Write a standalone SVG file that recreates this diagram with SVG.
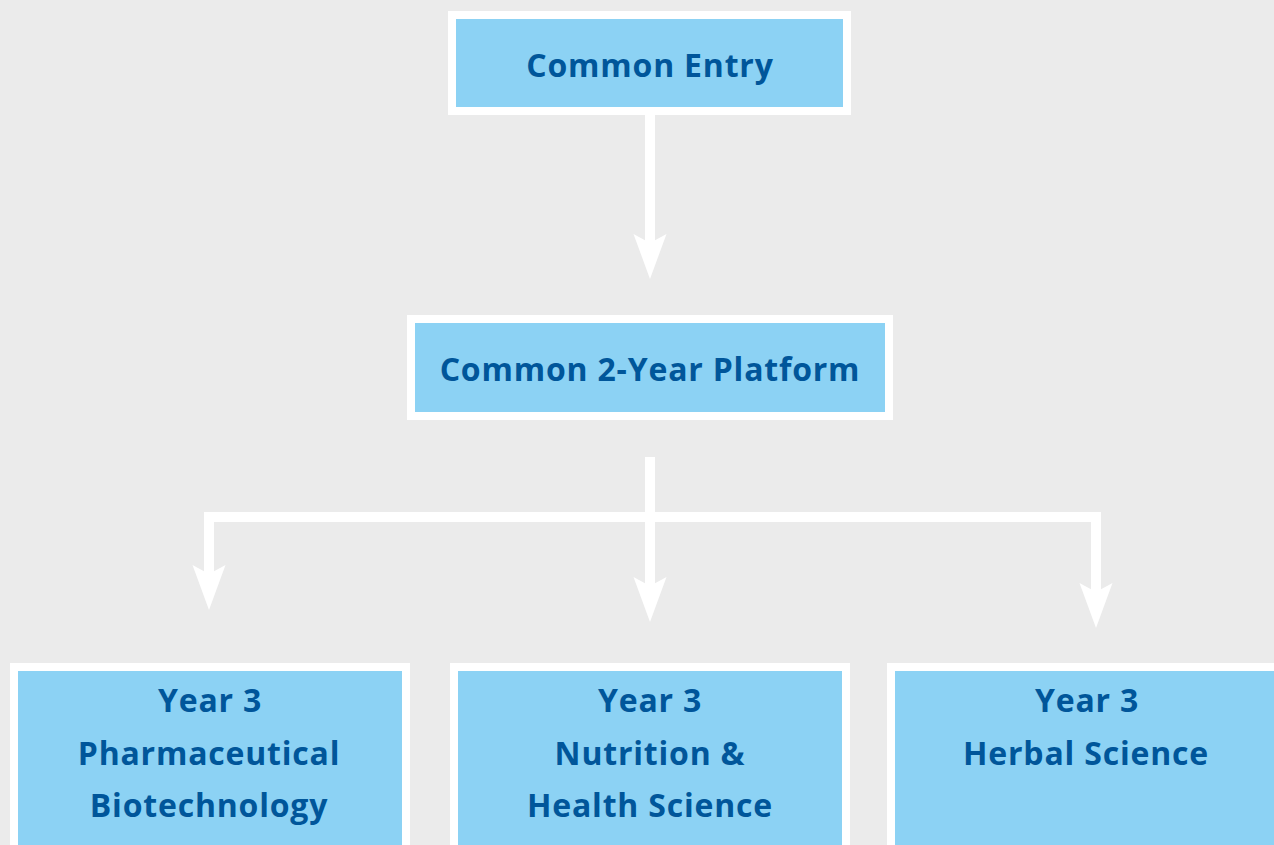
<svg xmlns="http://www.w3.org/2000/svg" xmlns:xlink="http://www.w3.org/1999/xlink" width="1274" height="845" viewBox="0 0 1274 845">
<style>
.box{fill:#8cd2f4;stroke:#ffffff;stroke-width:8}
.lbl{font-family:"Open Sans","Noto Sans","Liberation Sans",sans-serif;font-weight:700;fill:#00569a;text-anchor:middle;font-size:32px;letter-spacing:0.8px}
.wire{fill:none;stroke:#ffffff;stroke-width:10;stroke-linejoin:miter}
.head{fill:#ffffff}
</style>
<defs>
<path id="ah" d="M0 0 L16.5 -45 L0 -36 L-16.5 -45 Z"/>
</defs>
<rect width="1274" height="845" fill="#ebebeb"/>
<g id="connectors">
<path class="wire" d="M650 115 V245"/>
<use href="#ah" class="head" x="650" y="279"/>
<path class="wire" d="M650 457 V588"/>
<path class="wire" d="M209 576 V517 H1096 V595"/>
<use href="#ah" class="head" x="209" y="610"/>
<use href="#ah" class="head" x="650" y="622"/>
<use href="#ah" class="head" x="1096" y="628"/>
</g>
<g id="common-entry">
<rect class="box" x="452" y="15" width="395" height="96"/>
<text class="lbl" x="650" y="77">Common Entry</text>
</g>
<g id="common-platform">
<rect class="box" x="411" y="319" width="478" height="97"/>
<text class="lbl" x="650" y="381">Common 2-Year Platform</text>
</g>
<g id="year3-pharma">
<rect class="box" x="14" y="667" width="392" height="200"/>
<text class="lbl" x="210" y="712">Year 3</text>
<text class="lbl" x="209" y="765">Pharmaceutical</text>
<text class="lbl" x="209" y="817">Biotechnology</text>
</g>
<g id="year3-nutrition">
<rect class="box" x="454" y="667" width="392" height="200"/>
<text class="lbl" x="650" y="712">Year 3</text>
<text class="lbl" x="650" y="765">Nutrition &amp;</text>
<text class="lbl" x="650" y="817">Health Science</text>
</g>
<g id="year3-herbal">
<rect class="box" x="891" y="667" width="400" height="200"/>
<text class="lbl" x="1087" y="712">Year 3</text>
<text class="lbl" x="1086" y="765">Herbal Science</text>
</g>
</svg>
